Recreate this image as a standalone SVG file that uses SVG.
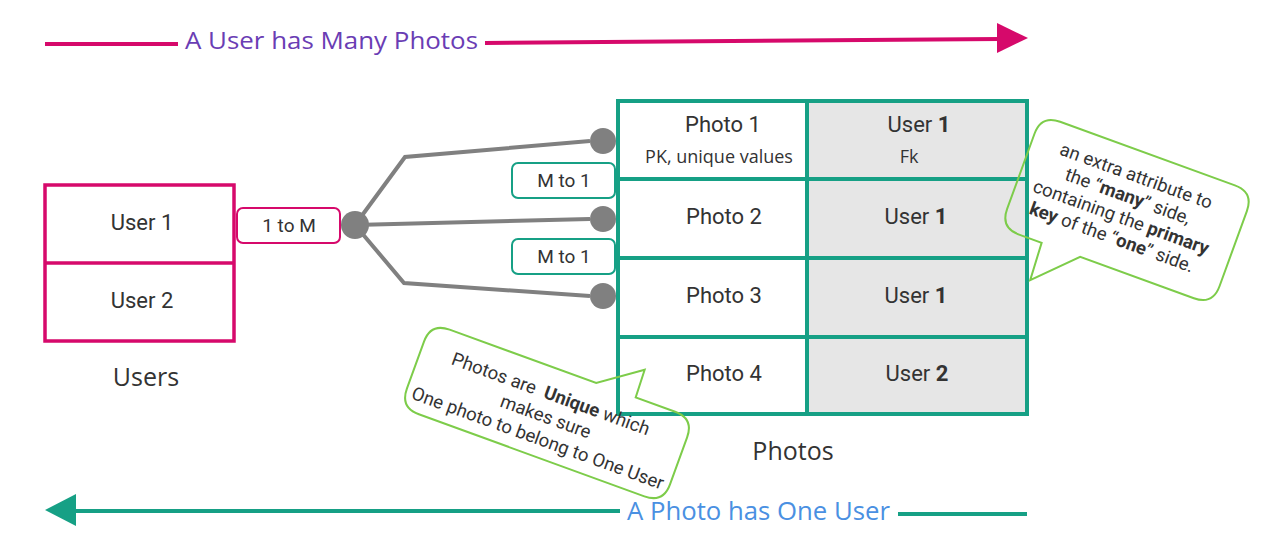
<svg xmlns="http://www.w3.org/2000/svg" width="1277" height="547" viewBox="0 0 1277 547">
<style>
.t{font-family:Roboto,"Liberation Sans",sans-serif;fill:#333;text-anchor:middle}
.o{font-family:"Open Sans","Liberation Sans",sans-serif;fill:#333;text-anchor:middle}
.b{font-weight:bold}
.pink{stroke:#d6096b}
.teal{stroke:#16a085}
.gl{stroke:#808080;stroke-width:4;fill:none}
.gc{fill:#808080}
.call{fill:none;stroke:#7dcc4a;stroke-width:2}
</style>
<rect width="1277" height="547" fill="#fff"/>
<g id="arrow-top">
<line x1="45" y1="44" x2="178" y2="44" class="pink" stroke-width="4"/>
<line x1="485" y1="43" x2="1000" y2="39" class="pink" stroke-width="4"/>
<polygon points="997,23 1028,38 997,53" fill="#d6096b"/>
<text x="185" y="49" font-family="'Open Sans','Liberation Sans',sans-serif" font-size="24" fill="#6a3db4" textLength="293" lengthAdjust="spacingAndGlyphs">A User has Many Photos</text>
</g>
<g id="arrow-bottom">
<line x1="74" y1="511" x2="620" y2="511" class="teal" stroke-width="4"/>
<line x1="898" y1="514" x2="1027" y2="514" class="teal" stroke-width="4"/>
<polygon points="76,494 45,510 76,526" fill="#16a085"/>
<text x="627" y="520" font-family="'Open Sans','Liberation Sans',sans-serif" font-size="25" fill="#4a90e2" textLength="263" lengthAdjust="spacingAndGlyphs">A Photo has One User</text>
</g>
<g id="connectors">
<polyline class="gl" points="355,225 405,157 590,141"/>
<line class="gl" x1="355" y1="225" x2="590" y2="219"/>
<polyline class="gl" points="355,225 404,283 590,296"/>
<circle class="gc" cx="355" cy="225" r="14"/>
<circle class="gc" cx="603" cy="141" r="13"/>
<circle class="gc" cx="603" cy="219" r="13"/>
<circle class="gc" cx="603" cy="296" r="13"/>
</g>
<g id="users">
<rect x="45" y="185" width="189" height="156" fill="#fff" class="pink" stroke-width="3.5"/>
<line x1="45" y1="263" x2="234" y2="263" class="pink" stroke-width="3.5"/>
<text class="t" x="142" y="230" font-size="22">User 1</text>
<text class="t" x="142" y="308" font-size="22">User 2</text>
<text class="o" x="146" y="386" font-size="25">Users</text>
</g>
<g id="label-1toM">
<rect x="237" y="208" width="103" height="35" rx="6" fill="#fff" class="pink" stroke-width="2"/>
<text class="t" x="289" y="232" font-size="19">1 to M</text>
</g>
<g id="label-Mto1-a">
<rect x="512" y="163" width="103" height="35" rx="6" fill="#fff" class="teal" stroke-width="2"/>
<text class="t" x="564" y="187" font-size="19">M to 1</text>
</g>
<g id="label-Mto1-b">
<rect x="512" y="239" width="103" height="35" rx="6" fill="#fff" class="teal" stroke-width="2"/>
<text class="t" x="564" y="263" font-size="19">M to 1</text>
</g>
<g id="photos">
<rect x="618" y="101" width="409" height="313" fill="#fff"/>
<rect x="807" y="101" width="220" height="313" fill="#e6e6e6"/>
<g class="teal" stroke-width="4" fill="none">
<rect x="618" y="101" width="409" height="313"/>
<line x1="807" y1="101" x2="807" y2="414"/>
<line x1="618" y1="179" x2="1027" y2="179"/>
<line x1="618" y1="258" x2="1027" y2="258"/>
<line x1="618" y1="337" x2="1027" y2="337"/>
</g>
<text class="t" x="723" y="132" font-size="22">Photo 1</text>
<text class="o" x="719" y="163" font-size="18">PK, unique values</text>
<text class="t" x="919" y="132" font-size="22">User <tspan class="b">1</tspan></text>
<text class="o" x="909" y="163" font-size="18">Fk</text>
<text class="t" x="724" y="224" font-size="22">Photo 2</text>
<text class="t" x="916" y="224" font-size="22">User <tspan class="b">1</tspan></text>
<text class="t" x="724" y="303" font-size="22">Photo 3</text>
<text class="t" x="916" y="303" font-size="22">User <tspan class="b">1</tspan></text>
<text class="t" x="724" y="381" font-size="22">Photo 4</text>
<text class="t" x="917" y="381" font-size="22">User <tspan class="b">2</tspan></text>
<text class="o" x="793" y="460" font-size="25">Photos</text>
</g>
<g id="callout-fk" transform="translate(1127,210) rotate(20)">
<path class="call" d="M -93,-60 H 93 Q 113,-60 113,-40 V 40 Q 113,60 93,60 H -28 L -67,99 L -69,60 H -93 Q -113,60 -113,40 V -40 Q -113,-60 -93,-60 Z"/>
<text class="t" font-size="18.5" fill="#222"><tspan x="-3" y="-29">an extra attribute to</tspan><tspan x="-4" y="-7">the “<tspan class="b">many</tspan>” side,</tspan><tspan x="-3" y="15">containing the <tspan class="b">primary</tspan></tspan><tspan x="-5" y="37"><tspan class="b">key</tspan> of the “<tspan class="b">one</tspan>” side.</tspan></text>
</g>
<g id="callout-unique" transform="translate(547,413) rotate(20)">
<path class="call" d="M -120,-45 H 36 L 77,-74 L 78,-45 H 120 Q 140,-45 140,-25 V 25 Q 140,45 120,45 H -120 Q -140,45 -140,25 V -25 Q -140,-45 -120,-45 Z"/>
<text class="t" font-size="18.5" fill="#222" style="white-space:pre"><tspan x="-3" y="-13">Photos are  <tspan class="b">Unique</tspan> which</tspan><tspan x="0" y="10">makes sure</tspan><tspan x="0" y="33">One photo to belong to One User</tspan></text>
</g>
</svg>
